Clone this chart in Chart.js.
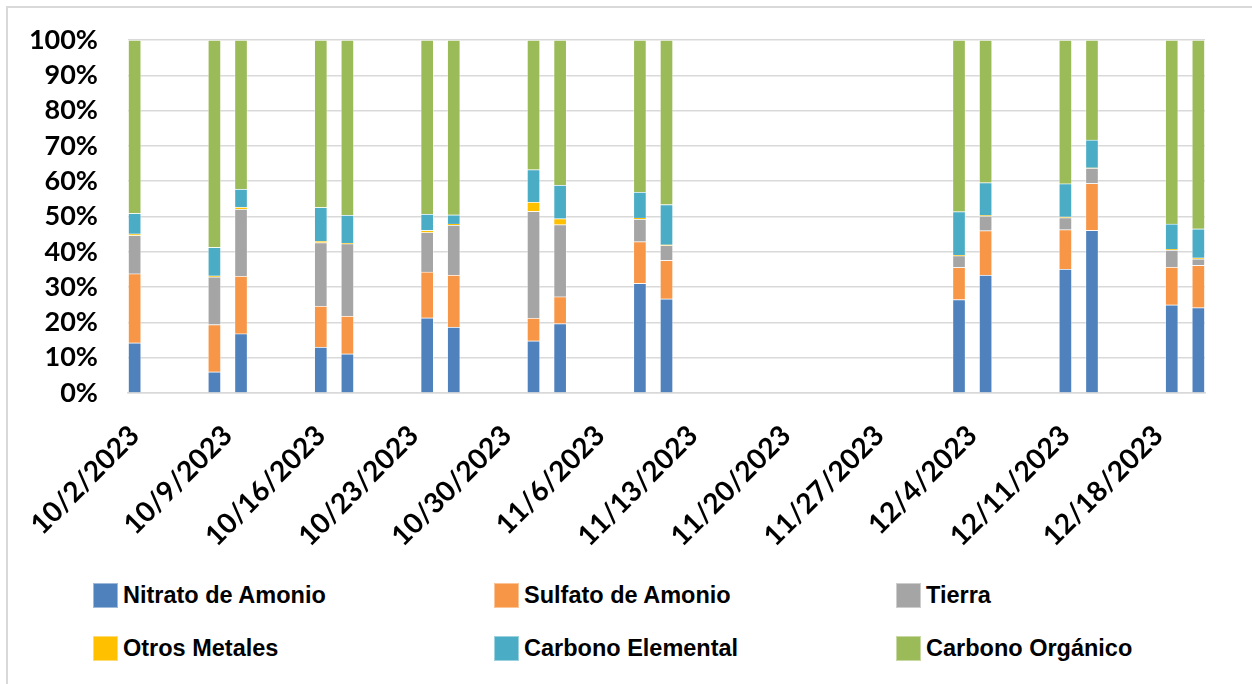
<!DOCTYPE html>
<html>
<head>
<meta charset="utf-8">
<script src="https://cdn.jsdelivr.net/npm/chart.js@4.4.1/dist/chart.umd.min.js"></script>
<style>
	body { margin: 0; width: 1252px; height: 684px; overflow: hidden; position: relative; background: #fff; }
	.frame { position: absolute; left: 6px; top: 6px; width: 1300px; height: 700px; border-left: 2px solid #d9d9d9; border-top: 2px solid #d9d9d9; }
	.chart_box { position: absolute; left: 0; top: 0; width: 1252px; height: 570px; }
	.legend { position: absolute; left: 93px; top: 583px; display: grid; grid-template-columns: 401px 402px auto; grid-auto-rows: 25px; row-gap: 28px; }
	.legend__item { display: flex; align-items: center; font: bold 23.5px 'Liberation Sans', Arial, sans-serif; color: #000; white-space: nowrap; }
	.legend__box { width: 25px; height: 25px; margin-right: 5px; box-sizing: border-box; border: 1px solid rgba(255, 255, 255, 0.45); }
</style>
</head>
<body>
<div class="frame"></div>
<div class="chart_box"><canvas class="coin_chart"></canvas></div>
<div class="legend"></div>
<script>
// sampling dates (x) and weekly tick labels
const sampleDates = ['10/2/2023', '10/8/2023', '10/10/2023', '10/16/2023', '10/18/2023', '10/24/2023', '10/26/2023',
	'11/1/2023', '11/3/2023', '11/9/2023', '11/11/2023', '12/3/2023', '12/5/2023', '12/11/2023', '12/13/2023',
	'12/19/2023', '12/21/2023'];
const tickLabels = ['10/2/2023', '10/9/2023', '10/16/2023', '10/23/2023', '10/30/2023', '11/6/2023',
	'11/13/2023', '11/20/2023', '11/27/2023', '12/4/2023', '12/11/2023', '12/18/2023'];

// series values, % of total
const nitratoAmonio = [14.2, 6.0, 16.8, 13.0, 11.1, 21.3, 18.7, 14.8, 19.7, 31.1, 26.7, 26.5, 33.4, 35.1, 46.1, 25.0, 24.2];
const sulfatoAmonio = [19.6, 13.4, 16.3, 11.6, 10.7, 13.0, 14.7, 6.4, 7.6, 11.8, 10.9, 9.1, 12.6, 11.2, 13.3, 10.7, 12.0];
const tierra = [10.9, 13.5, 19.0, 18.0, 20.5, 11.2, 14.2, 30.3, 20.4, 6.4, 4.2, 3.3, 4.1, 3.4, 4.3, 4.8, 1.8];
const otrosMetales = [0.4, 0.3, 0.6, 0.4, 0.2, 0.6, 0.3, 2.6, 1.7, 0.3, 0.2, 0.2, 0.2, 0.2, 0.1, 0.2, 0.3];
const carbonoElemental = [5.8, 8.1, 5.1, 9.6, 7.9, 4.6, 2.6, 9.2, 9.5, 7.3, 11.4, 12.3, 9.3, 9.4, 7.9, 7.2, 8.2];
const carbonoOrganico = [49.1, 58.7, 42.2, 47.4, 49.6, 49.3, 49.5, 36.7, 41.1, 43.1, 46.6, 48.6, 40.4, 40.7, 28.3, 52.1, 53.5];

const seriesNames = ['Nitrato de Amonio', 'Sulfato de Amonio', 'Tierra', 'Otros Metales', 'Carbono Elemental', 'Carbono Orgánico'];
const seriesValues = [nitratoAmonio, sulfatoAmonio, tierra, otrosMetales, carbonoElemental, carbonoOrganico];
const seriesColors = ['#4F81BD', '#F79646', '#A5A5A5', '#FFC000', '#4BACC6', '#9BBB59'];

// days since 10/2/2023
function dayNumber(label) {
	const [m, d, y] = label.split('/').map(Number);
	return Math.round((Date.UTC(y, m - 1, d) - Date.UTC(2023, 9, 2)) / 86400000);
}
const sampleDays = sampleDates.map(dayNumber);
const tickFont = { family: 'Lato, sans-serif', weight: 'bold' };

const ctx = document.querySelector('.coin_chart').getContext('2d');

const chart = new Chart(ctx, {
	type: 'bar',
	data: {
		datasets: seriesNames.map((name, i) => ({
			label: name,
			data: sampleDays.map((day, j) => ({ x: day, y: seriesValues[i][j] })),
			backgroundColor: seriesColors[i],
			borderColor: 'rgba(255, 255, 255, 0.35)',
			borderWidth: 1,
			barThickness: 13
		}))
	},
	options: {
		responsive: true,
		maintainAspectRatio: false,
		animation: false,
		layout: { padding: { top: 40, right: 47, left: 0, bottom: 0 } },
		plugins: {
			legend: { display: false },
			tooltip: { enabled: false }
		},
		scales: {
			x: {
				type: 'linear',
				stacked: true,
				offset: false,
				min: -0.5,
				max: 80.5,
				grid: { display: false, drawTicks: false, offset: false },
				border: { color: '#d9d9d9', width: 1.5 },
				afterBuildTicks: (scale) => {
					scale.ticks = tickLabels.map(l => ({ value: dayNumber(l) }));
				},
				afterFit: (scale) => { scale.height = 177; },
				ticks: {
					autoSkip: false,
					minRotation: 45,
					maxRotation: 45,
					padding: 26,
					color: '#000',
					font: { ...tickFont, size: 28 },
					callback: (value, index) => tickLabels[index]
				}
			},
			y: {
				stacked: true,
				min: 0,
				max: 100,
				grid: { color: '#d9d9d9', lineWidth: 1.5, drawTicks: false },
				border: { display: false },
				afterFit: (scale) => {
					scale.width = 128;
					// tick padding would otherwise push the plot down
					scale.paddingTop = 0;
					scale.paddingBottom = 0;
				},
				ticks: {
					autoSkip: false,
					stepSize: 10,
					padding: 30,
					color: '#000',
					font: { ...tickFont, size: 27 },
					callback: (value) => value + '%'
				}
			}
		}
	}
});

// legend in three columns, like the excel one
const legend = document.querySelector('.legend');
chart.data.datasets.forEach((ds) => {
	const item = document.createElement('div');
	item.className = 'legend__item';
	const box = document.createElement('span');
	box.className = 'legend__box';
	box.style.background = ds.backgroundColor;
	item.appendChild(box);
	item.appendChild(document.createTextNode(ds.label));
	legend.appendChild(item);
});
</script>
</body>
</html>
